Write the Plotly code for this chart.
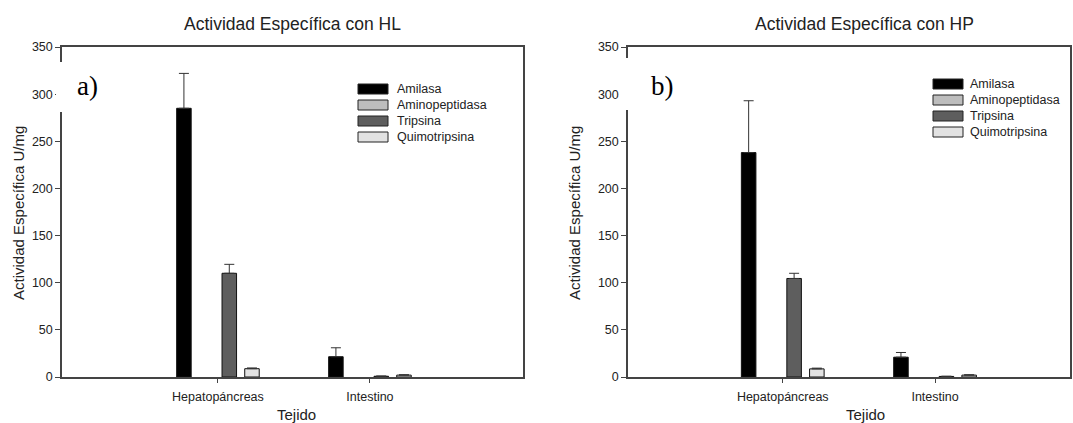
import plotly.graph_objects as go

# --- data -------------------------------------------------------------
tejidos = ["Hepatopáncreas", "Intestino"]
enzimas = ["Amilasa", "Aminopeptidasa", "Tripsina", "Quimotripsina"]

# Actividad específica (U/mg) con HL
hl_amilasa = [285.0, 21.5]
hl_aminopeptidasa = [0.0, 0.0]
hl_tripsina = [110.0, 0.8]
hl_quimotripsina = [8.8, 2.0]
# error estándar (solo hacia arriba)
hl_amilasa_err = [37.0, 9.5]
hl_aminopeptidasa_err = [0.0, 0.0]
hl_tripsina_err = [9.5, 0.2]
hl_quimotripsina_err = [0.8, 0.4]

# Actividad específica (U/mg) con HP
hp_amilasa = [238.0, 21.0]
hp_aminopeptidasa = [0.0, 0.0]
hp_tripsina = [104.5, 0.6]
hp_quimotripsina = [8.6, 2.0]
hp_amilasa_err = [55.0, 5.0]
hp_aminopeptidasa_err = [0.0, 0.0]
hp_tripsina_err = [5.5, 0.2]
hp_quimotripsina_err = [0.8, 0.4]

y_ticks = [0, 50, 100, 150, 200, 250, 300, 350]

colores = {"Amilasa": "#000000", "Aminopeptidasa": "#bdbdbd",
           "Tripsina": "#5e5e5e", "Quimotripsina": "#e2e2e2"}

# --- helpers: pixel -> paper -----------------------------------------
W, H = 1073, 423
def fx(px):
    return px / W
def fy(py):
    return 1 - py / H

FONT = "Liberation Sans, Arial, sans-serif"
TXT = "#222222"
AXC = "#444444"

fig = go.Figure()

paneles = [
    ("x", "y", [hl_amilasa, hl_aminopeptidasa, hl_tripsina, hl_quimotripsina],
     [hl_amilasa_err, hl_aminopeptidasa_err, hl_tripsina_err, hl_quimotripsina_err]),
    ("x2", "y2", [hp_amilasa, hp_aminopeptidasa, hp_tripsina, hp_quimotripsina],
     [hp_amilasa_err, hp_aminopeptidasa_err, hp_tripsina_err, hp_quimotripsina_err]),
]

for xa, ya, series, errores in paneles:
    for nombre, vals, err in zip(enzimas, series, errores):
        fig.add_trace(go.Bar(
            x=tejidos, y=vals, name=nombre, xaxis=xa, yaxis=ya,
            marker=dict(color=colores[nombre],
                        line=dict(color="#111111",
                                  width=[1 if v > 0 else 0 for v in vals])),
            error_y=dict(type="data", symmetric=False, array=err,
                         arrayminus=[0] * len(err), width=5, thickness=1,
                         color="#333333", visible=any(e > 0 for e in err)),
            showlegend=False,
        ))

eje_x = dict(type="category", showline=True, linecolor=AXC, linewidth=1.5,
             mirror=True, ticks="outside", ticklen=4, tickcolor=AXC,
             tickfont=dict(family=FONT, size=12.5, color=TXT),
             showgrid=False, zeroline=False, automargin=False,
             ticklabelstandoff=3)
eje_y = dict(range=[0, 350], tickvals=y_ticks, showline=True, linecolor=AXC,
             linewidth=1.5, mirror=True, ticks="outside", ticklen=5,
             tickcolor=AXC, tickfont=dict(family=FONT, size=12.5, color=TXT),
             showgrid=False, zeroline=False, automargin=False,
             domain=[fy(377), fy(47)])

fig.update_layout(
    width=W, height=H, margin=dict(l=0, r=0, t=0, b=0),
    paper_bgcolor="white", plot_bgcolor="white",
    barmode="group", bargap=0.403, bargroupgap=0.36,
    xaxis=dict(eje_x, domain=[fx(62), fx(523)], range=[-1.026, 2.007]),
    yaxis=dict(eje_y, anchor="x"),
    xaxis2=dict(eje_x, domain=[fx(628), fx(1070)], range=[-1.016, 1.886], anchor="y2"),
    yaxis2=dict(eje_y, anchor="x2"),
    showlegend=False,
)

anots = []
shapes = []

def texto(px, py, t, size, family=FONT, color=TXT, angle=0, xanchor="center"):
    return dict(x=fx(px), y=fy(py), xref="paper", yref="paper", text=t,
                showarrow=False, xanchor=xanchor, yanchor="middle",
                textangle=angle, font=dict(family=family, size=size, color=color))

# titles, axis titles, panel letters
for cx, titulo, ytx, xt_cx, letra, lx, lrect in [
    (292, "Actividad Específica con HL", 19, 296, "a)", 87, (56, 62, 104, 112)),
    (864, "Actividad Específica con HP", 575, 865, "b)", 662, (621, 58, 690, 110)),
]:
    anots.append(texto(cx, 24, titulo, 17.5))
    anots.append(texto(ytx, 213, "Actividad Específica U/mg", 15, angle=-90))
    anots.append(texto(xt_cx, 414, "Tejido", 15))
    x0, y0, x1, y1 = lrect
    shapes.append(dict(type="rect", xref="paper", yref="paper", layer="above",
                       x0=fx(x0), x1=fx(x1), y0=fy(y1), y1=fy(y0),
                       fillcolor="white", line=dict(width=0)))
    anots.append(texto(lx, 86, letra, 27,
                       family="Liberation Serif, Times New Roman, serif",
                       color="#000000"))

# legend boxes
for sx0, sx1, tx, filas in [(358, 388, 395, [89, 105, 121, 137]),
                            (933, 963, 968, [84, 100, 116, 132])]:
    for nombre, cy in zip(enzimas, filas):
        shapes.append(dict(type="rect", xref="paper", yref="paper", layer="above",
                           x0=fx(sx0), x1=fx(sx1), y0=fy(cy + 5), y1=fy(cy - 5),
                           fillcolor=colores[nombre],
                           line=dict(color="#222222", width=1)))
        anots.append(texto(tx, cy, nombre, 12.5, xanchor="left"))

fig.update_layout(annotations=anots, shapes=shapes)

fig.write_html("out.html")
